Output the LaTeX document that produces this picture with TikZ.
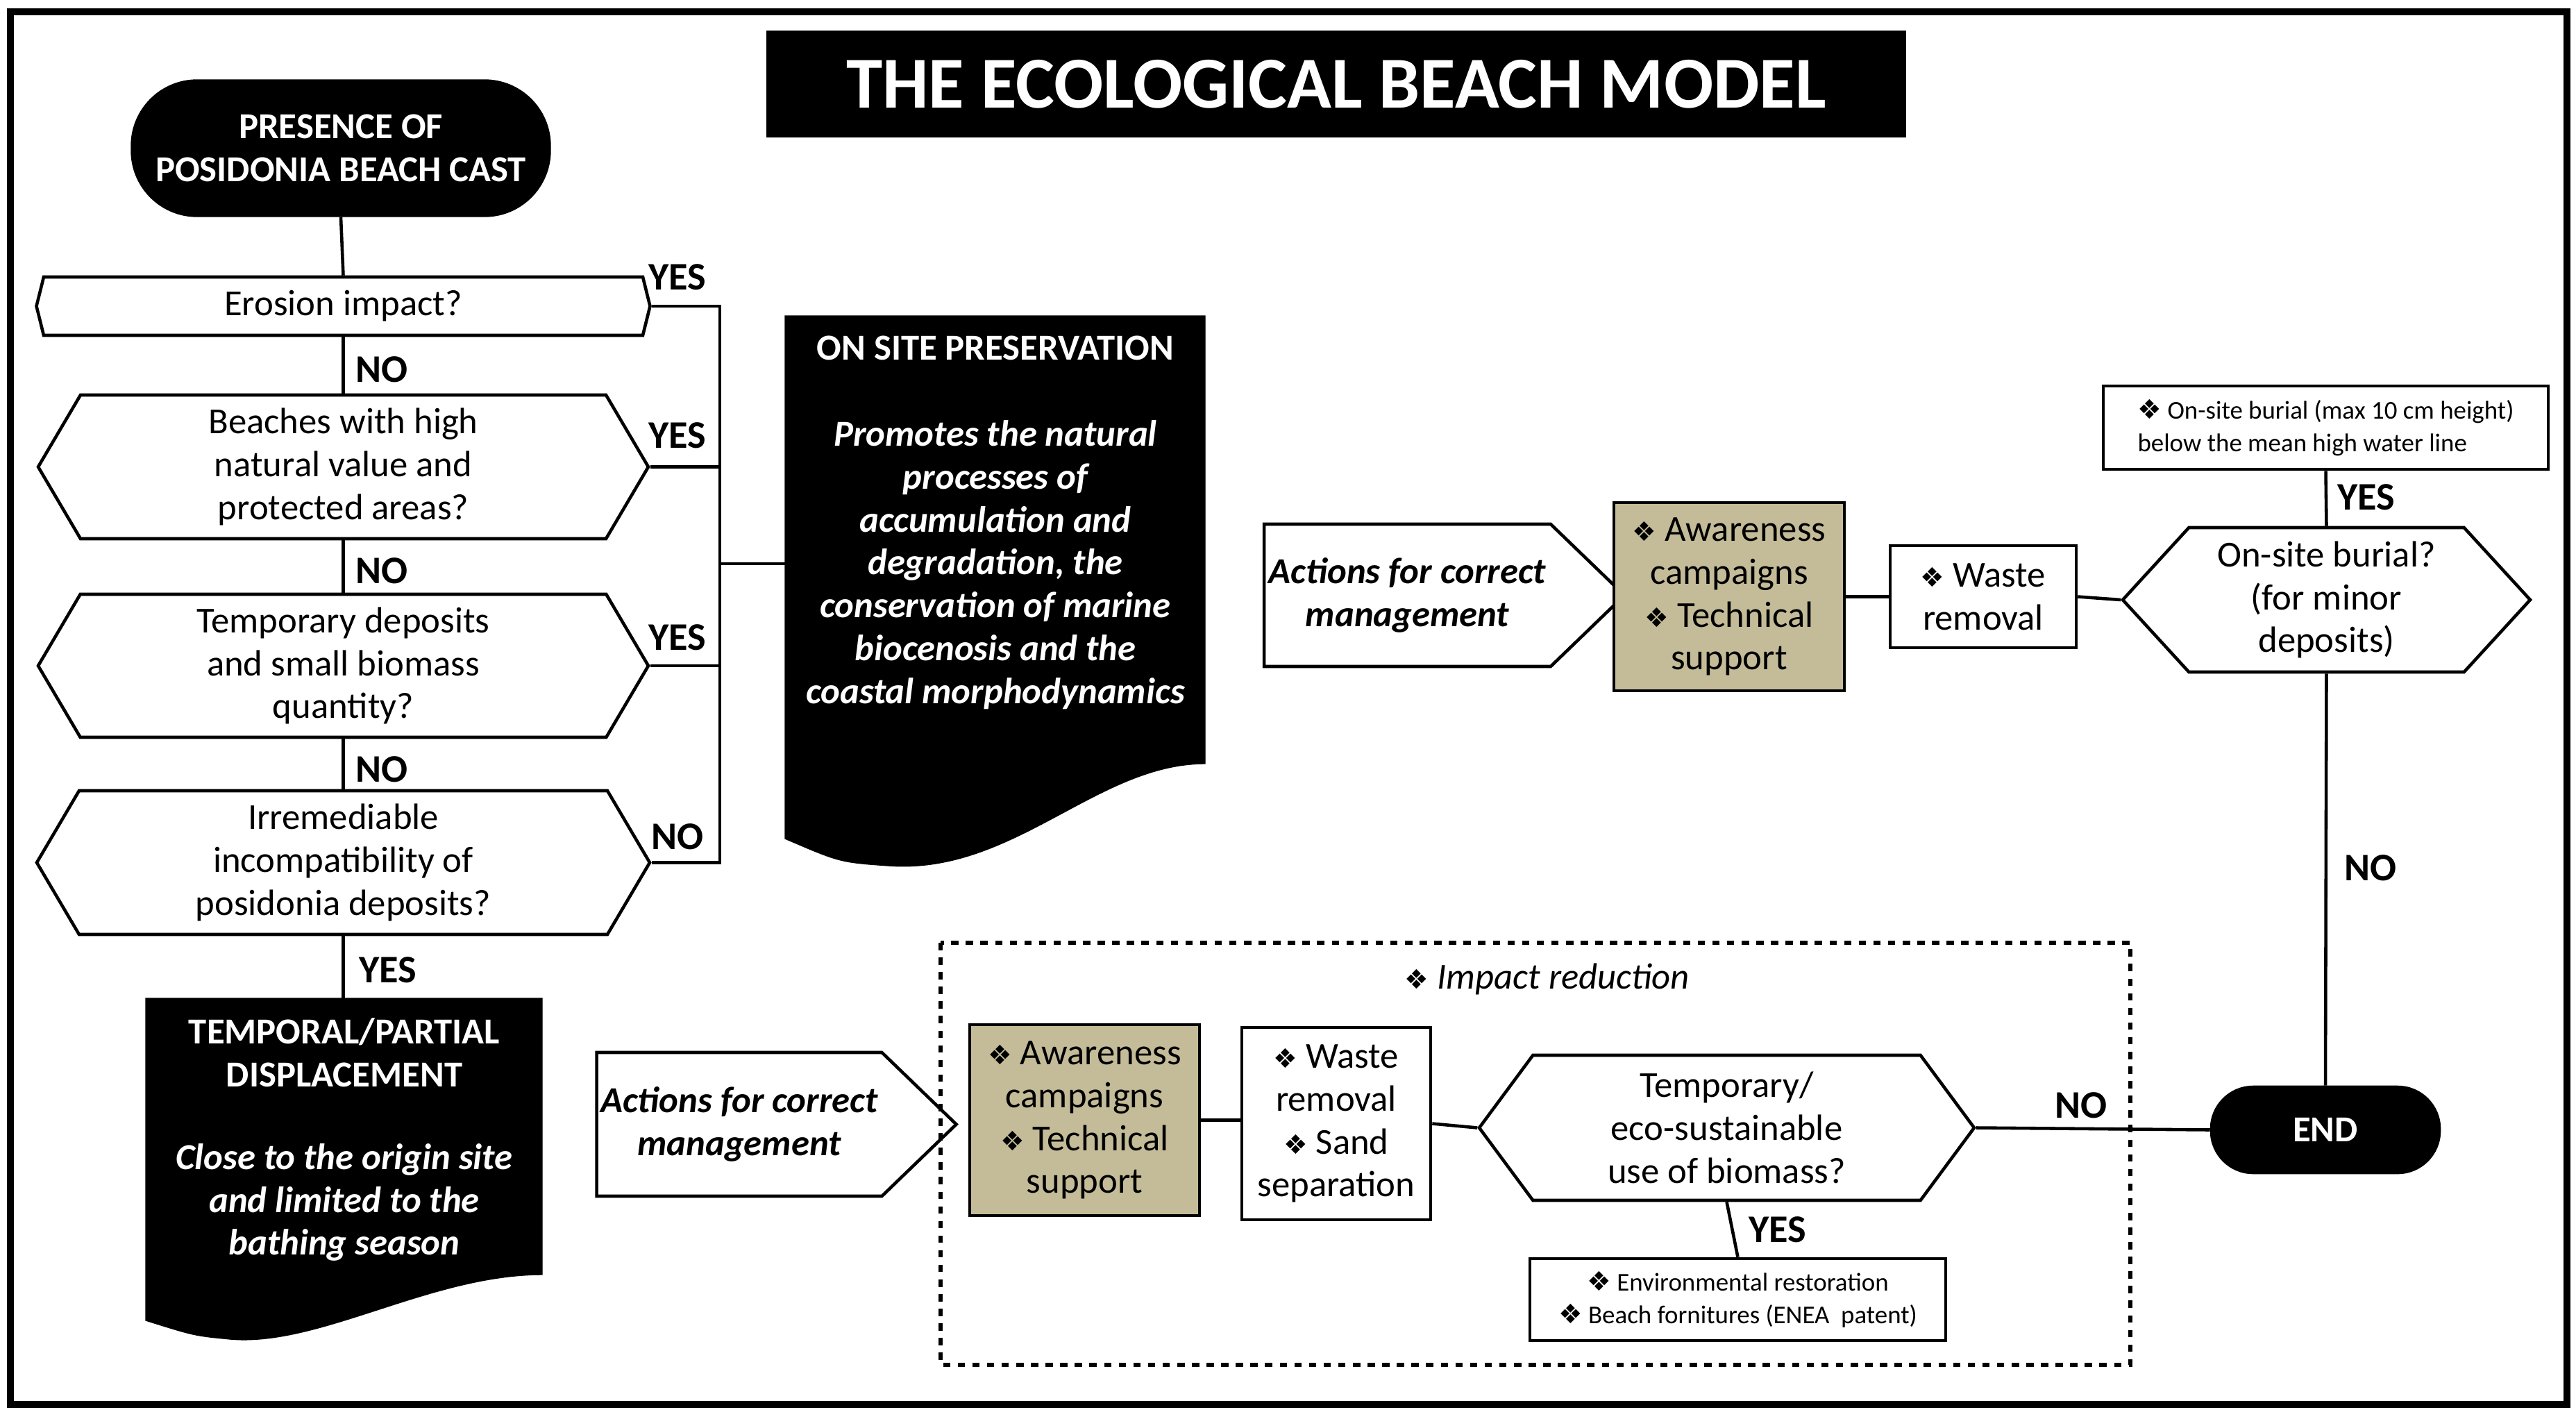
\documentclass[tikz,border=0pt]{standalone}
\usepackage{fontspec}
\setmainfont{Carlito}
\newfontfamily\symfont{DejaVu Sans}
\newcommand{\bul}{{\symfont\fontsize{11}{13}\selectfont\char"2756}}
\usetikzlibrary{positioning,shapes.symbols}
\definecolor{tanbox}{RGB}{196,188,152}

\begin{document}
\begin{tikzpicture}[
  line/.style={line width=1.3pt},
  txt/.style={font=\fontsize{15}{17.6}\selectfont, align=center, inner sep=0pt},
  small/.style={font=\fontsize{10.5}{13.4}\selectfont, inner sep=0pt},
  lbl/.style={font=\fontsize{16}{18}\selectfont\bfseries, inner sep=0pt},
  term/.style={txt, draw=black, fill=black, text=white, font=\fontsize{15}{17.6}\selectfont\bfseries},
  hexa/.style={txt, draw=black, line width=1.3pt, signal, signal to=east and west},
  box/.style={txt, draw=black, line width=1.3pt},
  doc/.style={fill=black, draw=black}
]
\useasboundingbox (0,0) rectangle (37.11,-20.43);
%\draw [help lines] (0,0) grid (37,-20);

% frame and title
\draw [line width=2.6pt] (0.15,-0.17) rectangle (36.98,-20.23);
\node [term, minimum width=16.41cm, minimum height=1.52cm,
       font=\fontsize{30}{34}\selectfont\bfseries] (title) at (19.25,-1.21) {THE ECOLOGICAL BEACH MODEL};

% left column
\node [term, rounded corners=0.95cm, minimum width=6.04cm, minimum height=1.97cm] (start) at (4.91,-2.135) {PRESENCE OF\\POSIDONIA BEACH CAST};
\node [hexa, minimum width=8.84cm, minimum height=0.84cm, signal pointer angle=152] (erosion) at (4.945,-4.41) {Erosion impact?};
\node [hexa, minimum width=8.79cm, minimum height=2.07cm, signal pointer angle=119] (beaches) at (4.945,-6.725) {Beaches with high\\natural value and\\protected areas?};
\node [hexa, minimum width=8.79cm, minimum height=2.06cm, signal pointer angle=119] (tempdep) at (4.945,-9.59) {Temporary deposits\\and small biomass\\quantity?};
\node [hexa, minimum width=8.83cm, minimum height=2.07cm, signal pointer angle=119] (irrem) at (4.945,-12.425) {Irremediable\\incompatibility of\\posidonia deposits?};

\draw [line] (start.south) -- (erosion.north);
\draw [line] (erosion.south) -- (beaches.north);
\draw [line] (beaches.south) -- (tempdep.north);
\draw [line] (tempdep.south) -- (irrem.north);

\node [lbl] (no1) at (5.5,-5.32) {NO};
\node [lbl] (no2) at (5.5,-8.22) {NO};
\node [lbl] (no3) at (5.5,-11.08) {NO};
\node [lbl] (yes1) at (9.76,-3.99) {YES};
\node [lbl] (yes2) at (9.76,-6.27) {YES};
\node [lbl] (yes3) at (9.76,-9.18) {YES};
\node [lbl] (no4) at (9.76,-12.05) {NO};
\node [lbl] (yes4) at (5.59,-13.97) {YES};

% bus to on site preservation
\coordinate (bustop) at (10.37,-4.41);
\coordinate (busbot) at (10.37,-12.425);
\coordinate (busmid) at (10.37,-8.12);
\coordinate (onsite-l) at (11.31,-8.12);
\draw [line] (erosion.east) -- (bustop) -- (busbot) -- (irrem.east);
\draw [line] (beaches.east) -- (beaches.east -| bustop);
\draw [line] (tempdep.east) -- (tempdep.east -| bustop);
\draw [line] (busmid) -- (onsite-l);

\fill [doc] (11.31,-4.55) -- (17.36,-4.55) -- (17.36,-11.0)
  .. controls (15.8,-11.0) and (14.6,-12.6) .. (12.8,-12.47)
  .. controls (12.1,-12.42) .. (11.31,-12.08) -- cycle;
\node [txt, text=white, font=\fontsize{15}{17.6}\selectfont\bfseries] (onsite) at (14.34,-5.01) {ON SITE PRESERVATION};
\node [txt, text=white, font=\fontsize{15}{17.6}\selectfont\bfseries\itshape] (onsite-txt) at (14.34,-8.135)
  {Promotes the natural\\processes of\\accumulation and\\degradation, the\\conservation of marine\\biocenosis and the\\coastal morphodynamics};

% temporal displacement
\coordinate (temporal-t) at (4.945,-14.38);
\draw [line] (irrem.south) -- (temporal-t);
\fill [doc] (2.10,-14.38) -- (7.81,-14.38) -- (7.81,-18.36)
  .. controls (6.2,-18.36) and (4.6,-19.4) .. (3.32,-19.29)
  .. controls (2.8,-19.24) .. (2.10,-19.02) -- cycle;
\node [txt, text=white, font=\fontsize{15}{17.6}\selectfont\bfseries] (temporal) at (4.96,-15.165) {TEMPORAL/PARTIAL\\DISPLACEMENT};
\node [txt, text=white, font=\fontsize{15}{17.6}\selectfont\bfseries\itshape] (temporal-txt) at (4.96,-17.32)
  {Close to the origin site\\and limited to the\\bathing season};

% upper row
\node [hexa, signal to=east, minimum width=5.19cm, minimum height=2.05cm, signal pointer angle=88,
       font=\fontsize{15}{17.6}\selectfont\bfseries\itshape] (actions1) at (20.275,-8.575) {Actions for correct\\management};
\node [box, fill=tanbox, minimum width=3.32cm, minimum height=2.71cm] (aware1) at (24.91,-8.595)
  {\bul\ Awareness\\campaigns\\\bul\ Technical\\support};
\node [box, minimum width=2.68cm, minimum height=1.47cm] (waste1) at (28.57,-8.595) {\bul\ Waste\\removal};
\node [hexa, minimum width=5.87cm, minimum height=2.08cm, signal pointer angle=95] (burial) at (33.515,-8.64)
  {On-site burial?\\(for minor\\deposits)};
\node [box, small, align=left, minimum width=6.41cm, minimum height=1.20cm, inner xsep=0.4cm] (burialbox) at (33.505,-6.16)
  {\bul\ On-site burial (max 10 cm height)\\below the mean high water line};
\node [box, fill=black, text=white, font=\fontsize{15}{17.6}\selectfont\bfseries, rounded corners=0.6cm,
       minimum width=3.28cm, minimum height=1.23cm] (end) at (33.50,-16.275) {END};

\draw [line] (aware1.east |- waste1.west) -- (waste1.west);
\draw [line] (waste1.east) -- (burial.west);
\draw [line] (burial.north) -- (burialbox.south);
\draw [line] (burial.south) -- (end.north);
\node [lbl] (yes5) at (34.09,-7.16) {YES};
\node [lbl] (no5) at (34.15,-12.5) {NO};

% lower row
\node [hexa, signal to=east, minimum width=5.18cm, minimum height=2.07cm, signal pointer angle=88,
       font=\fontsize{15}{17.6}\selectfont\bfseries\itshape] (actions2) at (10.65,-16.195) {Actions for correct\\management};
\draw [line, dashed, line width=1.5pt] (13.55,-13.58) rectangle (30.69,-19.66);
\node [txt] (impact) at (22.29,-14.10) {\bul\ \textit{Impact reduction}};
\node [box, fill=tanbox, minimum width=3.31cm, minimum height=2.75cm] (aware2) at (15.625,-16.135)
  {\bul\ Awareness\\campaigns\\\bul\ Technical\\support};
\node [box, minimum width=2.72cm, minimum height=2.77cm] (waste2) at (19.25,-16.185)
  {\bul\ Waste\\removal\\\bul\ Sand\\separation};
\node [hexa, minimum width=7.13cm, minimum height=2.09cm, signal pointer angle=107] (biomass) at (24.875,-16.245)
  {Temporary/\\eco-sustainable\\use of biomass?};
\node [box, small, align=center, minimum width=5.99cm, minimum height=1.18cm] (envbox) at (25.035,-18.72)
  {\bul\ Environmental restoration\\\bul\ Beach fornitures (ENEA\ \ patent)};

\draw [line] (aware2.east) -- (aware2.east -| waste2.west);
\draw [line] (waste2.east) -- (biomass.west);
\draw [line] (biomass.east) -- (end.west);
\draw [line] (biomass.south) -- (envbox.north);
\node [lbl] (no6) at (29.98,-15.92) {NO};
\node [lbl] (yes6) at (25.61,-17.71) {YES};

\end{tikzpicture}
\end{document}
